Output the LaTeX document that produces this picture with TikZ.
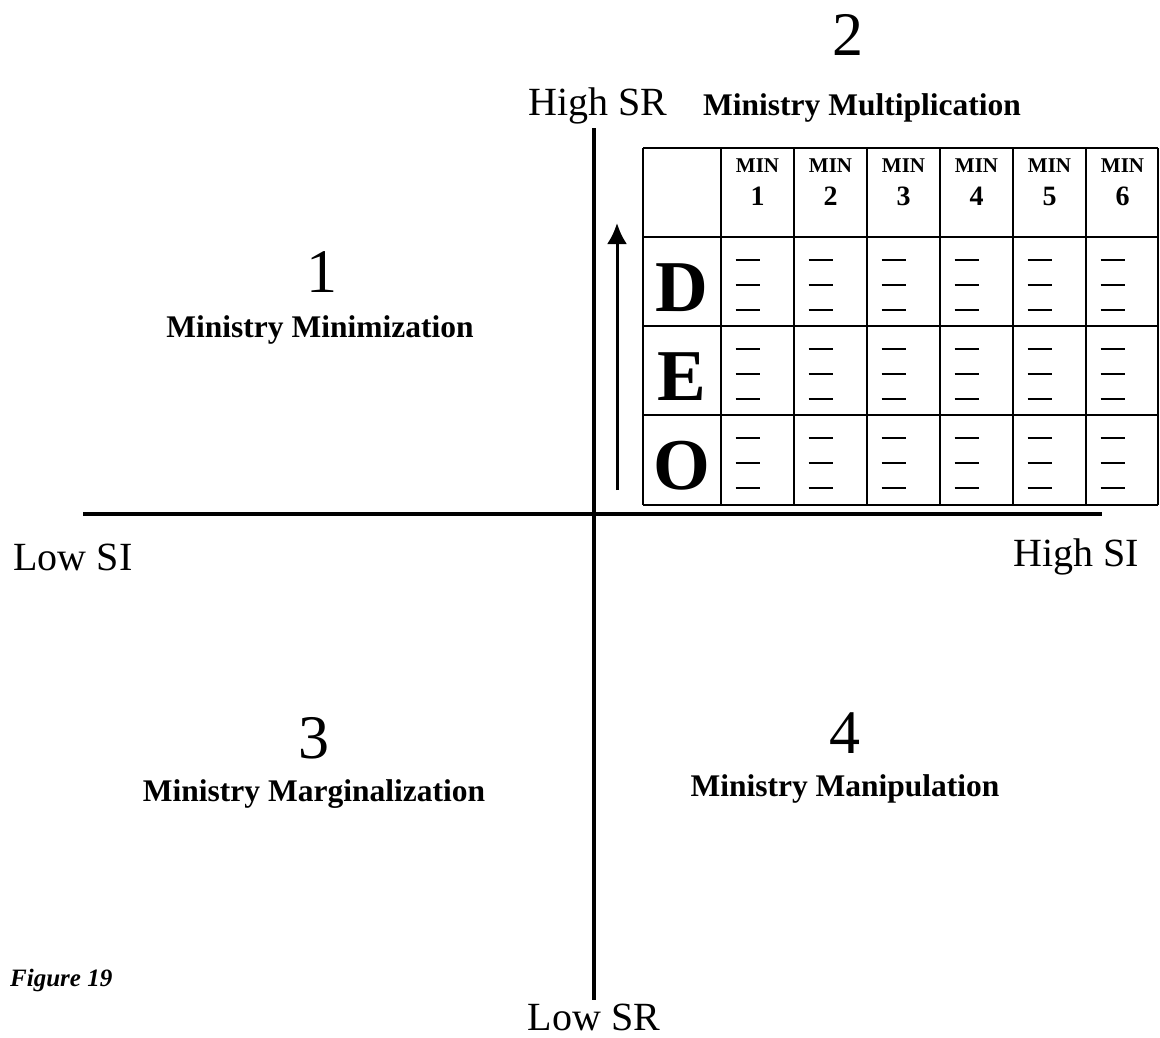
\documentclass[tikz,border=0pt]{standalone}
\usepackage{fontspec}
\setmainfont{Liberation Serif}
\usetikzlibrary{arrows.meta, positioning, calc}

\newcommand{\fsz}[1]{\fontsize{#1}{#1}\selectfont}

\begin{document}
\begin{tikzpicture}[x=1pt, y=-1pt,
    axis/.style={draw=black, line width=4.5pt},
    gridline/.style={draw=black, line width=1.4pt},
    cellbar/.style={draw=black, line width=1.6pt},
    upline/.style={draw=black, line width=3pt, -{Latex[length=21pt, width=20pt]}},
    num/.style={font={\fsz{62}}, inner sep=0pt, anchor=base},
    quad/.style={font={\bfseries\fsz{31.5}}, inner sep=0pt, anchor=base},
    axlabel/.style={font={\fsz{40}}, inner sep=0pt, anchor=base, text depth=0pt},
    rowlabel/.style={font={\bfseries\fsz{73}}, inner sep=0pt, anchor=base},
    mintext/.style={font={\bfseries\fsz{21}}, inner sep=0pt, anchor=base},
    minnum/.style={font={\bfseries\fsz{28}}, inner sep=0pt, anchor=base}
]
    % Page frame
    \fill[white] (0,0) rectangle (1160,1037);

    % Axis end points
    \coordinate (SRhigh) at (594,128);
    \coordinate (SRlow)  at (594,1000);
    \coordinate (SIlow)  at (83,514);
    \coordinate (SIhigh) at (1102,514);

    % Axes
    \draw[axis, line width=4pt] (SRhigh) -- (SRlow);
    \draw[axis] (SIlow) -- (SIhigh);

    % Axis labels
    \node[axlabel] (HighSR) at (598,115) {High SR};
    \node[axlabel] (LowSR)  at (594,1030) {Low SR};
    \node[axlabel] (LowSI)  at (73,570) {Low SI};
    \node[axlabel] (HighSI) at (1076,566) {High SI};

    % Quadrants
    \node[num]  (Q1)  at (322,292) {1};
    \node[quad] (Q1t) at (320,337) {Ministry Minimization};
    \node[num]  (Q2)  at (848,55)  {2};
    \node[quad] (Q2t) at (862,115) {Ministry Multiplication};
    \node[num]  (Q3)  at (314,758) {3};
    \node[quad] (Q3t) at (314,801) {Ministry Marginalization};
    \node[num]  (Q4)  at (845,753) {4};
    \node[quad] (Q4t) at (845,796) {Ministry Manipulation};

    % Caption
    \node[font={\bfseries\itshape\fsz{25}}, inner sep=0pt, anchor=base west] (fig) at (10,986) {Figure 19};

    % Rising arrow
    \coordinate (arrowfoot) at (617,490);
    \coordinate (arrowtip)  at (617,223);
    \draw[upline] (arrowfoot) -- (arrowtip);

    % Table grid
    \foreach \x in {643,721,794,867,940,1013,1086,1158}
        \draw[gridline] (\x,148) -- (\x,505);
    \foreach \y in {148,237,326,415,505}
        \draw[gridline] (643,\y) -- (1158,\y);

    % Header cells
    \foreach \i in {1,...,6} {
        \node[mintext] (min\i) at ({684.5+73*\i},172) {MIN};
        \node[minnum]  (num\i) at ({684.5+73*\i},205) {\i};
    }

    % Row letters
    \node[rowlabel] (rowD) at (682,311) {D};
    \node[rowlabel] (rowE) at (682,400) {E};
    \node[rowlabel] (rowO) at (682,489) {O};

    % Blanks in the cells
    \foreach \i in {1,...,6}
        \foreach \r in {237,326,415}
            \foreach \k in {0,1,2}
                \draw[cellbar] ({684.5+73*\i-22},{\r+23+25*\k}) -- ++(24,0);
\end{tikzpicture}
\end{document}
